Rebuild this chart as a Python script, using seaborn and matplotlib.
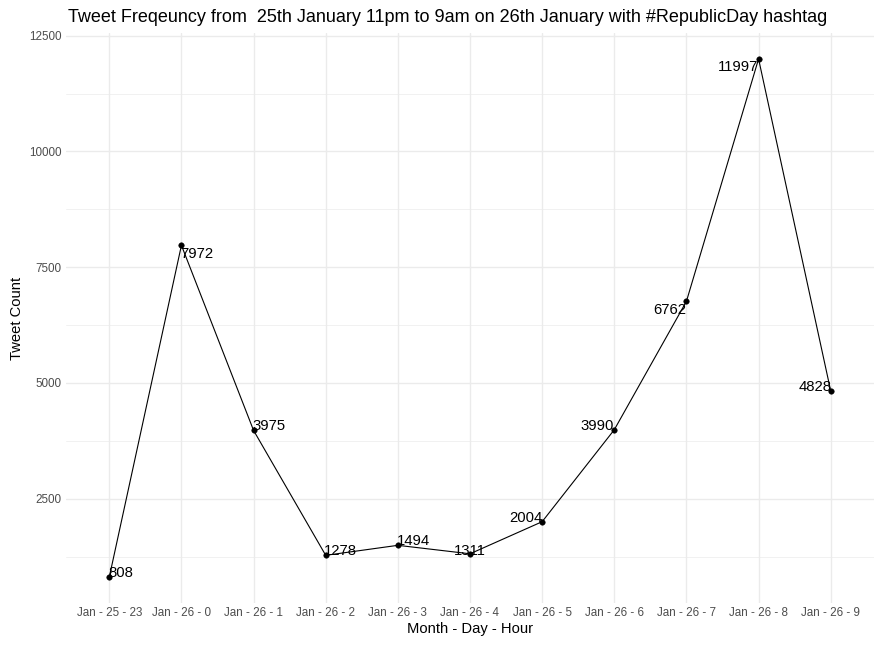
import matplotlib
matplotlib.use("Agg")
import matplotlib.pyplot as plt
import seaborn as sns
import pandas as pd
from matplotlib.ticker import MultipleLocator

categories = ["Jan - 25 - 23", "Jan - 26 - 0", "Jan - 26 - 1", "Jan - 26 - 2", "Jan - 26 - 3",
              "Jan - 26 - 4", "Jan - 26 - 5", "Jan - 26 - 6", "Jan - 26 - 7", "Jan - 26 - 8",
              "Jan - 26 - 9"]
counts = [808, 7972, 3975, 1278, 1494, 1311, 2004, 3990, 6762, 11997, 4828]
# label alignment: (ha, dx pts, dy pts)
label_pos = [("left", -1, 3), ("left", -1, -6), ("left", -1, 3), ("left", -1, 3), ("left", -1, 3),
             ("center", 0, 2), ("right", 0, 3), ("right", 0, 3), ("right", 0, -6),
             ("right", 0, -6), ("right", 1, 3)]

sns.set_theme(style="whitegrid")
plt.rcParams['font.family'] = ['Liberation Sans', 'DejaVu Sans']

df = pd.DataFrame({"hour": categories, "count": counts})

fig = plt.figure(figsize=(8.81, 6.48), dpi=100)
ax = fig.add_axes([66 / 881, 1 - 603 / 648, (874 - 66) / 881, (603 - 33) / 648])

sns.lineplot(data=df, x="hour", y="count", sort=False, color="black", linewidth=0.8, ax=ax)
sns.scatterplot(data=df, x="hour", y="count", color="black", s=16, edgecolor="black", ax=ax, zorder=3)

for i, (c, (ha, dx, dy)) in enumerate(zip(counts, label_pos)):
    ax.annotate(str(c), (i, c), xytext=(dx, dy), textcoords="offset points",
                ha=ha, va="center", fontsize=10.7, color="black")

ax.set_xlim(-0.6, len(categories) - 0.4)
rng = max(counts) - min(counts)
ax.set_ylim(min(counts) - 0.05 * rng, max(counts) + 0.05 * rng)
ax.yaxis.set_major_locator(MultipleLocator(2500))
ax.yaxis.set_minor_locator(MultipleLocator(1250))
ax.grid(which="major", color="#EBEBEB", linewidth=1.0)
ax.grid(which="minor", axis="y", color="#EBEBEB", linewidth=0.5)
ax.set_axisbelow(True)
for s in ax.spines.values():
    s.set_visible(False)
ax.tick_params(axis="both", which="both", length=0, colors="#4D4D4D", labelsize=8.4, pad=3)
ax.set_xlabel("Month - Day - Hour", fontsize=10.6, color="black", labelpad=2)
ax.set_ylabel("Tweet Count", fontsize=10.6, color="black", labelpad=4)
ax.set_title("Tweet Freqeuncy from  25th January 11pm to 9am on 26th January with #RepublicDay hashtag",
             fontsize=13.0, color="black", loc="left", x=0.003, pad=8)

fig.savefig("out.png", dpi=100)
